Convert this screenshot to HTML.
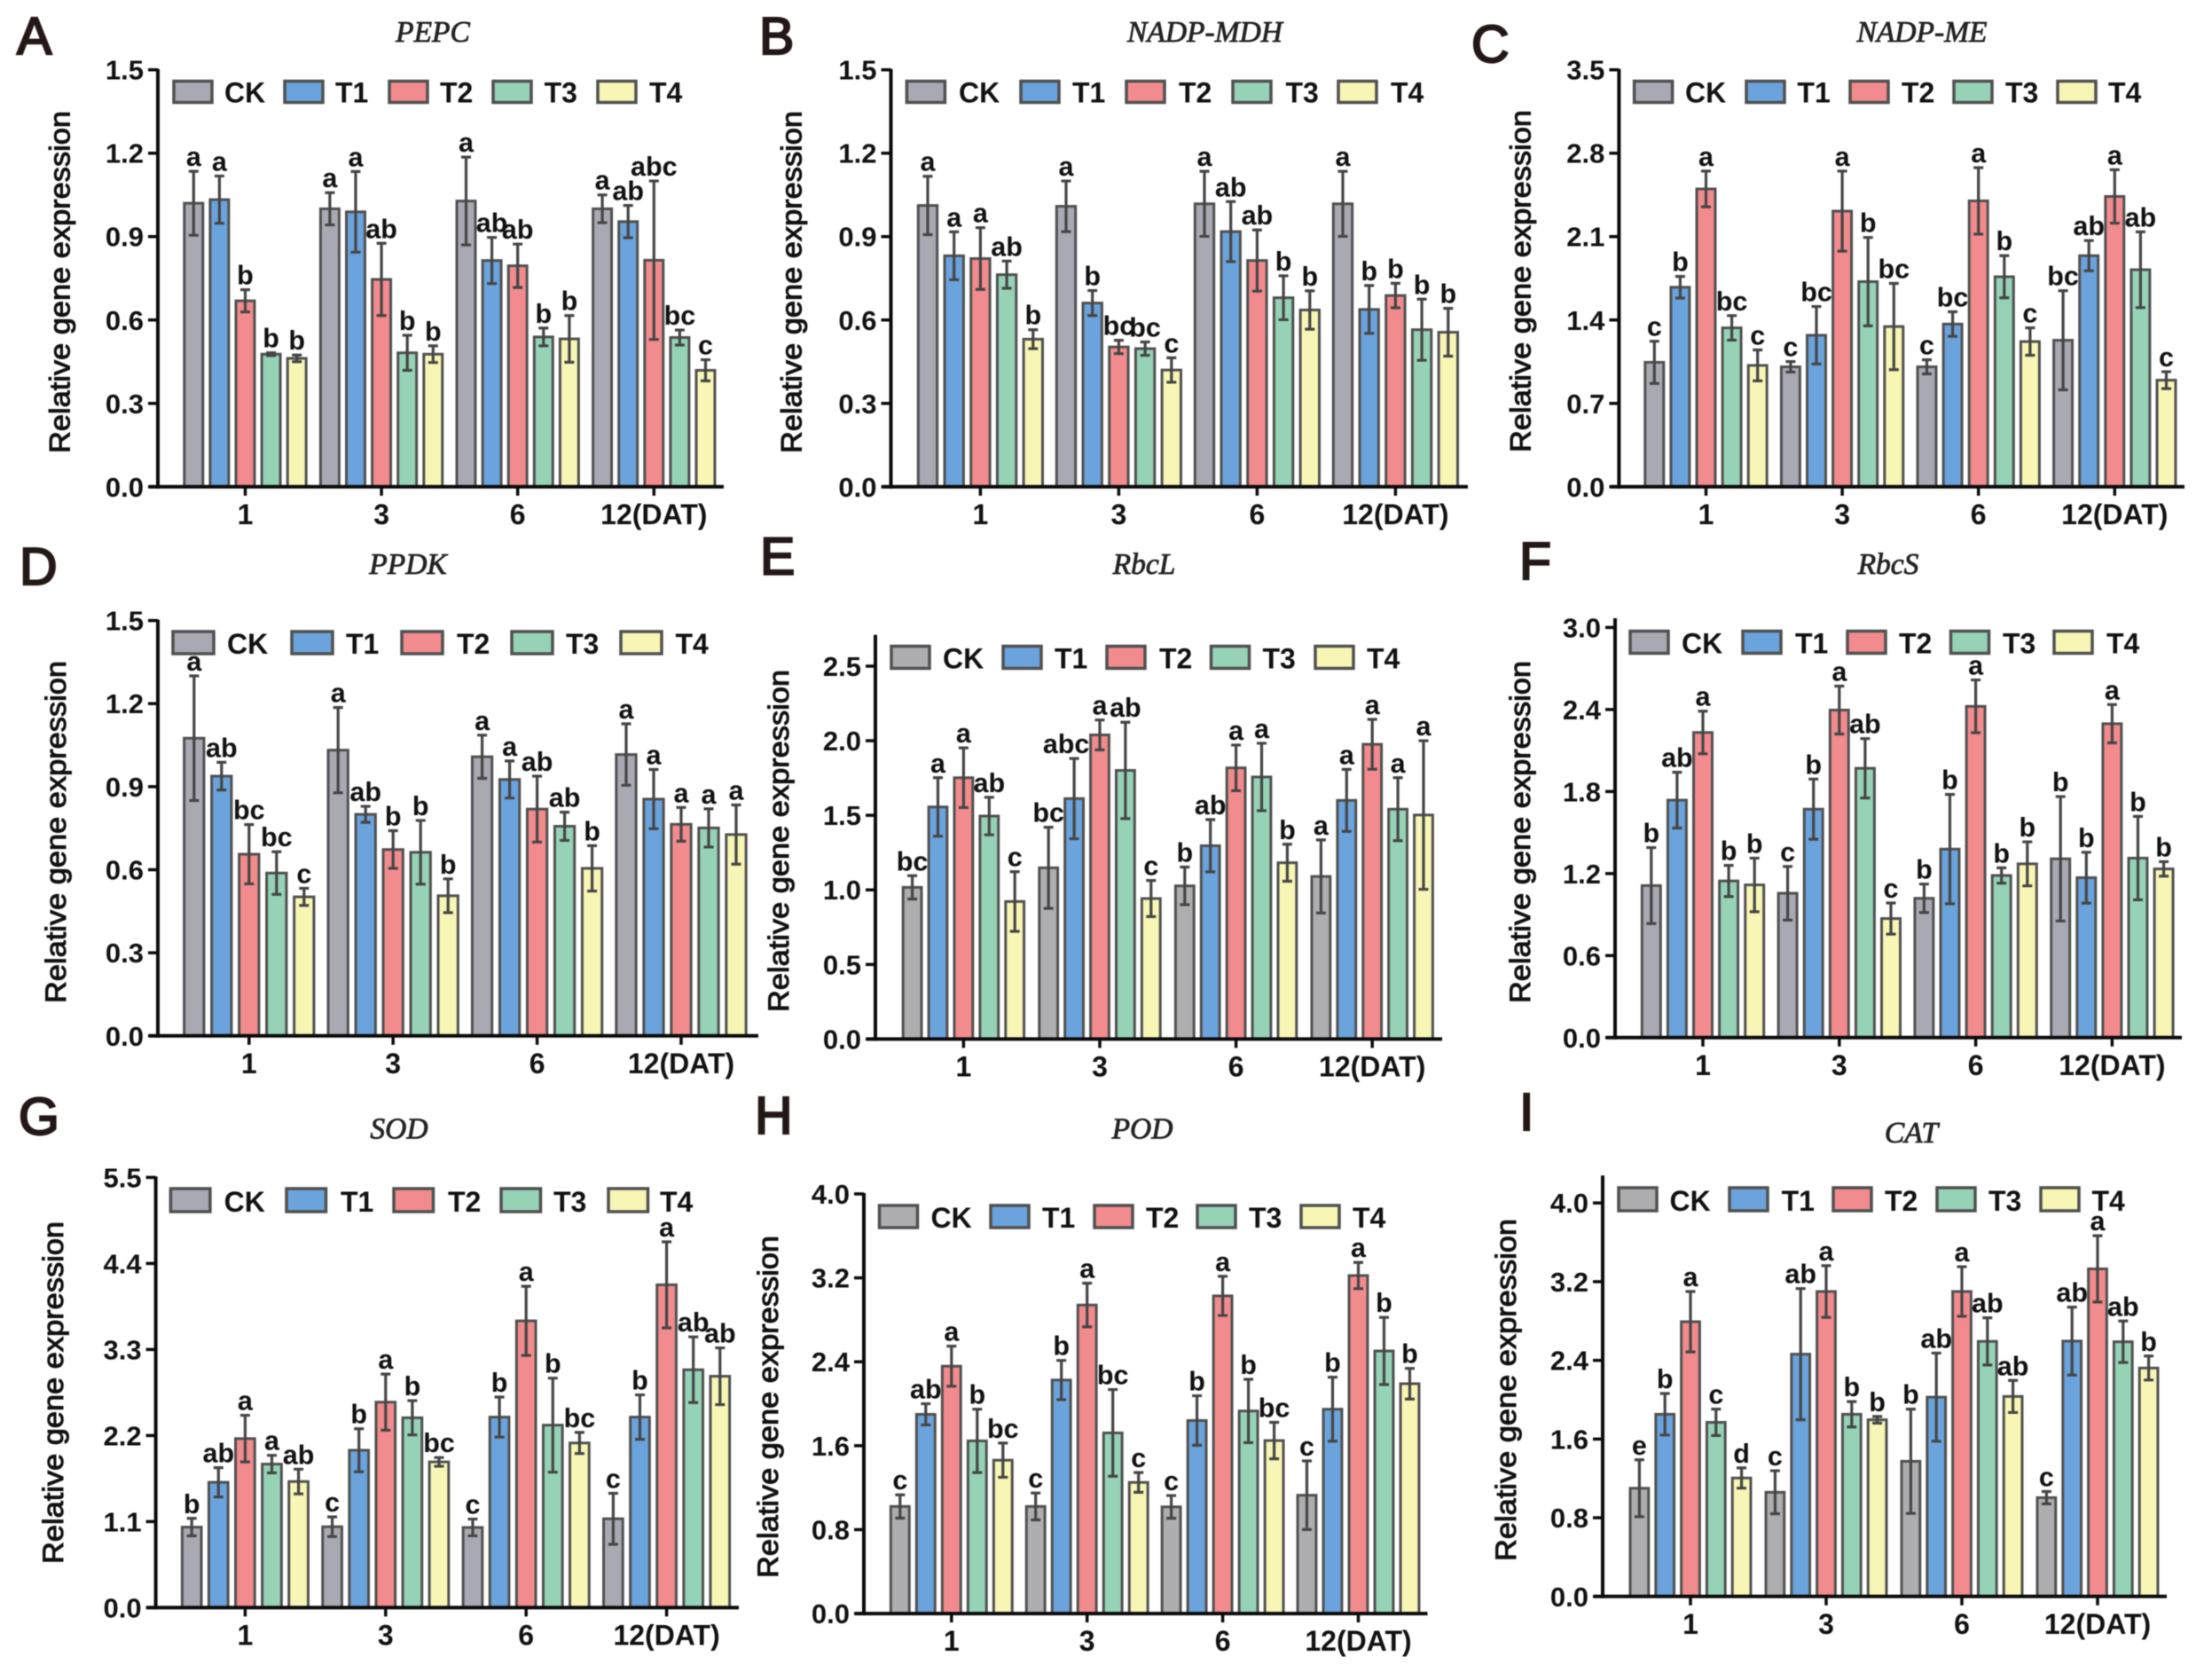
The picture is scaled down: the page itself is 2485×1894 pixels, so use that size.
<!DOCTYPE html>
<html lang="en">
<head>
<meta charset="utf-8">
<title>Relative gene expression panels</title>
<style>
html,body{margin:0;padding:0;background:#fff;}
svg{display:block;filter:blur(0.6px);}
text{font-family:"Liberation Sans",Arial,sans-serif;fill:#111;}
</style>
</head>
<body>
<svg id="figure" xmlns="http://www.w3.org/2000/svg" width="2485" height="1894" viewBox="0 0 2485 1894"></svg>
<script>
const categories = ['1', '3', '6', '12(DAT)'];
const seriesNames = ['CK', 'T1', 'T2', 'T3', 'T4'];
const seriesFills = ['#a9a9b3', '#6ba3dc', '#f28b8d', '#96d3b6', '#f8f6b5'];
const yAxisTitle = 'Relative gene expression';

const pepcTicks = ['0.0', '0.3', '0.6', '0.9', '1.2', '1.5'];
const pepcValues = [[1.02, 1.033, 0.669, 0.477, 0.462], [1.0, 0.989, 0.746, 0.482, 0.477], [1.028, 0.814, 0.795, 0.539, 0.532], [1.0, 0.954, 0.815, 0.537, 0.419]];
const pepcErrors = [[0.115, 0.085, 0.04, 0.005, 0.012], [0.058, 0.145, 0.13, 0.063, 0.03], [0.158, 0.083, 0.078, 0.032, 0.084], [0.05, 0.058, 0.285, 0.027, 0.038]];
const pepcLetters = [['a', 'a', 'b', 'b', 'b'], ['a', 'a', 'ab', 'b', 'b'], ['a', 'ab', 'ab', 'b', 'b'], ['a', 'ab', 'abc', 'bc', 'c']];

const mdhTicks = ['0.0', '0.3', '0.6', '0.9', '1.2', '1.5'];
const mdhValues = [[1.012, 0.831, 0.821, 0.763, 0.531], [1.009, 0.661, 0.503, 0.497, 0.42], [1.018, 0.918, 0.814, 0.68, 0.636], [1.018, 0.638, 0.688, 0.565, 0.556]];
const mdhErrors = [[0.105, 0.086, 0.111, 0.049, 0.034], [0.091, 0.045, 0.024, 0.024, 0.044], [0.117, 0.108, 0.11, 0.079, 0.069], [0.117, 0.086, 0.044, 0.11, 0.086]];
const mdhLetters = [['a', 'a', 'a', 'ab', 'b'], ['a', 'b', 'bc', 'bc', 'c'], ['a', 'ab', 'ab', 'b', 'b'], ['a', 'b', 'b', 'b', 'b']];

const meTicks = ['0.0', '0.7', '1.4', '2.1', '2.8', '3.5'];
const meValues = [[1.045, 1.675, 2.5, 1.334, 1.019], [1.007, 1.272, 2.314, 1.722, 1.345], [1.007, 1.366, 2.4, 1.763, 1.219], [1.23, 1.94, 2.437, 1.822, 0.895]];
const meErrors = [[0.177, 0.091, 0.15, 0.103, 0.13], [0.044, 0.241, 0.336, 0.371, 0.362], [0.059, 0.103, 0.279, 0.177, 0.115], [0.416, 0.127, 0.224, 0.318, 0.071]];
const meLetters = [['c', 'b', 'a', 'bc', 'c'], ['c', 'bc', 'a', 'b', 'bc'], ['c', 'bc', 'a', 'b', 'c'], ['bc', 'ab', 'a', 'ab', 'c']];

const ppdkTicks = ['0.0', '0.3', '0.6', '0.9', '1.2', '1.5'];
const ppdkValues = [[1.075, 0.938, 0.656, 0.588, 0.502], [1.032, 0.8, 0.673, 0.663, 0.506], [1.008, 0.926, 0.819, 0.757, 0.605], [1.016, 0.855, 0.764, 0.751, 0.727]];
const ppdkErrors = [[0.225, 0.05, 0.107, 0.077, 0.031], [0.154, 0.029, 0.068, 0.115, 0.061], [0.078, 0.067, 0.119, 0.051, 0.082], [0.111, 0.107, 0.061, 0.069, 0.107]];
const ppdkLetters = [['a', 'ab', 'bc', 'bc', 'c'], ['a', 'ab', 'b', 'b', 'b'], ['a', 'a', 'ab', 'ab', 'b'], ['a', 'a', 'a', 'a', 'a']];

const rbclTicks = ['0.0', '0.5', '1.0', '1.5', '2.0', '2.5'];
const rbclValues = [[1.017, 1.556, 1.752, 1.495, 0.922], [1.148, 1.612, 2.039, 1.801, 0.942], [1.027, 1.296, 1.818, 1.757, 1.182], [1.09, 1.6, 1.976, 1.541, 1.502]];
const rbclErrors = [[0.078, 0.196, 0.2, 0.126, 0.2], [0.272, 0.269, 0.1, 0.323, 0.121], [0.126, 0.175, 0.153, 0.226, 0.124], [0.245, 0.208, 0.167, 0.211, 0.498]];
const rbclLetters = [['bc', 'a', 'a', 'ab', 'c'], ['bc', 'abc', 'a', 'ab', 'c'], ['b', 'ab', 'a', 'a', 'b'], ['a', 'a', 'a', 'a', 'a']];

const rbcsTicks = ['0.0', '0.6', '1.2', '1.8', '2.4', '3.0'];
const rbcsValues = [[1.112, 1.737, 2.232, 1.146, 1.117], [1.056, 1.671, 2.396, 1.97, 0.871], [1.019, 1.379, 2.423, 1.186, 1.271], [1.308, 1.17, 2.296, 1.313, 1.234]];
const rbcsErrors = [[0.278, 0.204, 0.156, 0.114, 0.196], [0.196, 0.22, 0.175, 0.217, 0.114], [0.104, 0.4, 0.193, 0.056, 0.161], [0.455, 0.186, 0.14, 0.305, 0.053]];
const rbcsLetters = [['b', 'ab', 'a', 'b', 'b'], ['c', 'b', 'a', 'ab', 'c'], ['b', 'b', 'a', 'b', 'b'], ['b', 'b', 'a', 'b', 'b']];

const sodTicks = ['0.0', '1.1', '2.2', '3.3', '4.4', '5.5'];
const sodValues = [[1.029, 1.602, 2.161, 1.835, 1.612], [1.034, 2.012, 2.627, 2.427, 1.863], [1.025, 2.436, 3.666, 2.333, 2.105], [1.136, 2.436, 4.127, 3.041, 2.958]];
const sodErrors = [[0.112, 0.187, 0.298, 0.112, 0.158], [0.126, 0.275, 0.359, 0.219, 0.056], [0.107, 0.256, 0.442, 0.601, 0.135], [0.326, 0.284, 0.55, 0.42, 0.363]];
const sodLetters = [['b', 'ab', 'a', 'a', 'ab'], ['c', 'b', 'a', 'b', 'bc'], ['c', 'b', 'a', 'b', 'bc'], ['c', 'b', 'a', 'ab', 'ab']];

const podTicks = ['0.0', '0.8', '1.6', '2.4', '3.2', '4.0'];
const podValues = [[1.021, 1.899, 2.358, 1.646, 1.462], [1.021, 2.226, 2.941, 1.722, 1.25], [1.017, 1.84, 3.028, 1.931, 1.649], [1.128, 1.948, 3.222, 2.503, 2.191]];
const podErrors = [[0.111, 0.101, 0.191, 0.302, 0.163], [0.128, 0.187, 0.208, 0.413, 0.094], [0.108, 0.236, 0.187, 0.302, 0.174], [0.327, 0.305, 0.125, 0.32, 0.146]];
const podLetters = [['c', 'ab', 'a', 'b', 'bc'], ['c', 'b', 'a', 'bc', 'c'], ['c', 'b', 'a', 'b', 'bc'], ['c', 'b', 'a', 'b', 'b']];

const catTicks = ['0.0', '0.8', '1.6', '2.4', '3.2', '4.0'];
const catValues = [[1.1, 1.852, 2.793, 1.77, 1.204], [1.059, 2.463, 3.1, 1.852, 1.796], [1.374, 2.026, 3.1, 2.593, 2.033], [1.004, 2.596, 3.33, 2.589, 2.322]];
const catErrors = [[0.289, 0.211, 0.307, 0.134, 0.103], [0.219, 0.667, 0.263, 0.129, 0.034], [0.53, 0.448, 0.252, 0.24, 0.163], [0.063, 0.345, 0.337, 0.211, 0.122]];
const catLetters = [['e', 'b', 'a', 'c', 'd'], ['c', 'ab', 'a', 'b', 'b'], ['b', 'ab', 'a', 'ab', 'ab'], ['c', 'ab', 'a', 'ab', 'b']];

const panels = [
  {id:'a', label:'A', title:'PEPC', ticks:pepcTicks, values:pepcValues, errors:pepcErrors, letters:pepcLetters,
   box:{ax:178, y0:548.8, yTop:78.7, axisTop:78.7, xEnd:816, first:276.5, step:153.6, bar:29.1, lx:19, ly:61, tx:488, ty:47, yt:78.5, yc:318, lgY:91.5, lgH:24, lgW:43, lgS:[196,321,439,556,674], lgT:[253,378,496,613.6,732]}},
  {id:'b', label:'B', title:'NADP-MDH', ticks:mdhTicks, values:mdhValues, errors:mdhErrors, letters:mdhLetters,
   box:{ax:1004.5, y0:548.8, yTop:78.7, axisTop:78.7, xEnd:1655, first:1105.4, step:156, bar:29.7, lx:856, ly:61, tx:1358.5, ty:47, yt:903.5, yc:318, lgY:91.5, lgH:24, lgW:43, lgS:[1022.4,1151,1270,1390,1509], lgT:[1081,1209,1329,1449.5,1568]}},
  {id:'c', label:'C', title:'NADP-ME', ticks:meTicks, values:meValues, errors:meErrors, letters:meLetters,
   box:{ax:1825.4, y0:548.8, yTop:78.7, axisTop:78.7, xEnd:2463, first:1923.5, step:153.6, bar:29.1, lx:1659, ly:70, tx:2167, ty:47, yt:1725.5, yc:317, lgY:91.5, lgH:24, lgW:43, lgS:[1842.6,1969,2086,2203,2320], lgT:[1900,2026.4,2144,2261,2377]}},
  {id:'d', label:'D', title:'PPDK', ticks:ppdkTicks, values:ppdkValues, errors:ppdkErrors, letters:ppdkLetters,
   box:{ax:178, y0:1167.8, yTop:699.6, axisTop:699.6, xEnd:855, first:280.8, step:162.4, bar:31, lx:22, ly:659, tx:460, ty:647, yt:74, yc:938, lgY:712, lgH:25, lgW:46, lgS:[195,329,453,577,700], lgT:[256,390,515,638,761.5]}},
  {id:'e', label:'E', title:'RbcL', ticks:rbclTicks, values:rbclValues, errors:rbclErrors, letters:rbclLetters,
   box:{gray:'#aeaeb0', shift:{'1-1':-9}, ax:987, y0:1171.4, yTop:751, axisTop:716.8, xEnd:1626, first:1086.4, step:153.6, bar:28.9, lx:857, ly:647.5, tx:1290, ty:647, yt:889, yc:948, lgY:728.5, lgH:25, lgW:43, lgS:[1005,1131,1248,1365.5,1483], lgT:[1063,1189,1307,1423.5,1541]}},
  {id:'f', label:'F', title:'RbcS', ticks:rbcsTicks, values:rbcsValues, errors:rbcsErrors, letters:rbcsLetters,
   box:{ax:1821, y0:1169.8, yTop:707.4, axisTop:698, xEnd:2460, first:1920, step:153.8, bar:29.1, lx:1713, ly:653, tx:2129, ty:647, yt:1725, yc:938, lgY:711.5, lgH:25, lgW:43, lgS:[1838,1965,2083,2199.5,2316], lgT:[1896,2024,2141,2258,2375]}},
  {id:'g', label:'G', title:'SOD', ticks:sodTicks, values:sodValues, errors:sodErrors, letters:sodLetters,
   box:{ax:175.6, y0:1812.4, yTop:1327.4, axisTop:1327.4, xEnd:833, first:276.4, step:158.4, bar:30.1, lx:21, ly:1279, tx:450, ty:1283.7, yt:71, yc:1570, lgY:1340, lgH:26, lgW:44.5, lgS:[192.4,323,444,565,686], lgT:[252.6,384,505,624,744]}},
  {id:'h', label:'H', title:'POD', ticks:podTicks, values:podValues, errors:podErrors, letters:podLetters,
   box:{gray:'#aeaeb0', ax:974, y0:1819.1, yTop:1346, axisTop:1346, xEnd:1609.5, first:1072.8, step:152.9, bar:29, lx:851, ly:1278, tx:1288, ty:1283.7, yt:877, yc:1586, lgY:1359, lgH:25, lgW:43, lgS:[991.5,1117,1234,1350,1467], lgT:[1049.5,1175,1292,1408,1525]}},
  {id:'i', label:'I', title:'CAT', ticks:catTicks, values:catValues, errors:catErrors, letters:catLetters,
   box:{gray:'#aeaeb0', ax:1807, y0:1799.8, yTop:1356.2, axisTop:1326.3, xEnd:2443, first:1906, step:153, bar:28.8, lx:1713, ly:1274, tx:2155, ty:1288, yt:1709, yc:1567, lgY:1339, lgH:26, lgW:43, lgS:[1825,1950,2067,2184,2301], lgT:[1882.5,2008.6,2125,2242,2358.5]}}
];

const NS = 'http://www.w3.org/2000/svg';
const figure = document.getElementById('figure');
const AXIS = '#0b0b0b';
const EDGE = '#505050';
const ERR = '#454545';

function mk(tag, attrs, parent, txt) {
  const el = document.createElementNS(NS, tag);
  for (const k in attrs) el.setAttribute(k, attrs[k]);
  if (txt !== undefined) el.textContent = txt;
  parent.appendChild(el);
  return el;
}

panels.forEach(function (p) {
  const b = p.box;
  const maxTick = parseFloat(p.ticks[p.ticks.length - 1]);
  const yOf = function (v) { return b.y0 - v * (b.y0 - b.yTop) / maxTick; };
  const xOf = function (g, s) { return b.first + g * b.step + (s - 2) * b.bar; };
  const barW = b.bar * 0.72;
  const fillFor = function (s) { return (s === 0 && b.gray) ? b.gray : seriesFills[s]; };

  const g = mk('g', {}, figure);
  
  

  const letterEl = mk('text', {x:b.lx, y:b.ly, 'font-size':59, stroke:'#231815', 'stroke-width':2.2, style:'fill:#231815'}, g, p.label);
  
  

  const titleEl = mk('text', {x:b.tx, y:b.ty, 'text-anchor':'middle', 'font-size':33.5, 'font-style':'italic', stroke:'#222', 'stroke-width':0.8, style:'font-family:"Liberation Serif",serif;fill:#222'}, g, p.title);
  
  

  const yTitleEl = mk('text', {transform:'translate(' + b.yt + ',' + b.yc + ') rotate(-90)', 'text-anchor':'middle', 'font-size':32, textLength:386, lengthAdjust:'spacingAndGlyphs', stroke:'#111', 'stroke-width':1}, g, yAxisTitle);
  
  

  p.values.forEach(function (row, gi) {
    row.forEach(function (v, si) {
      const cx = xOf(gi, si);
      const top = yOf(v);
      const bar = mk('rect', {x:cx - barW / 2, y:top, width:barW, height:b.y0 - top, fill:fillFor(si), stroke:EDGE, 'stroke-width':3}, g);
      
      
    });
  });

  p.values.forEach(function (row, gi) {
    row.forEach(function (v, si) {
      const cx = xOf(gi, si);
      const e = p.errors[gi][si];
      const hi = yOf(v + e);
      const lo = yOf(v - e);
      const err = mk('path', {d:'M' + cx + ' ' + hi + 'V' + lo + 'M' + (cx - 5.5) + ' ' + hi + 'H' + (cx + 5.5) + 'M' + (cx - 5.5) + ' ' + lo + 'H' + (cx + 5.5), fill:'none', stroke:ERR, 'stroke-width':3.2}, g);
      
      
      const off = (b.shift && b.shift[gi + '-' + si]) || 0;
      const lab = mk('text', {x:cx + off, y:hi - 6, 'text-anchor':'middle', 'font-size':30.5, 'font-weight':'bold'}, g, p.letters[gi][si]);
      
      
    });
  });

  const yAxis = mk('line', {x1:b.ax, x2:b.ax, y1:b.axisTop - 1, y2:b.y0 + 2, stroke:AXIS, 'stroke-width':4}, g);
  
  

  const xAxis = mk('line', {x1:b.ax - 10, x2:b.xEnd, y1:b.y0, y2:b.y0, stroke:AXIS, 'stroke-width':4}, g);
  
  

  p.ticks.forEach(function (t) {
    const y = yOf(parseFloat(t));
    const tick = mk('line', {x1:b.ax - 11, x2:b.ax, y1:y, y2:y, stroke:AXIS, 'stroke-width':3.5}, g);
    
    
    const label = mk('text', {x:b.ax - 16, y:y + 11, 'text-anchor':'end', 'font-size':31, 'font-weight':'bold'}, g, t);
    
    
  });

  categories.forEach(function (c, gi) {
    const x = xOf(gi, 2);
    const tick = mk('line', {x1:x, x2:x, y1:b.y0, y2:b.y0 + 10, stroke:AXIS, 'stroke-width':3.5}, g);
    
    
    const label = mk('text', {x:x, y:b.y0 + 42, 'text-anchor':'middle', 'font-size':32, 'font-weight':'bold'}, g, c);
    
    
  });

  seriesNames.forEach(function (n, si) {
    const swatch = mk('rect', {x:b.lgS[si], y:b.lgY, width:b.lgW, height:b.lgH, fill:fillFor(si), stroke:EDGE, 'stroke-width':3.5}, g);
    
    
    const label = mk('text', {x:b.lgT[si], y:b.lgY + b.lgH, 'font-size':32, 'font-weight':'bold'}, g, n);
    
    
  });
});
</script>
</body>
</html>
